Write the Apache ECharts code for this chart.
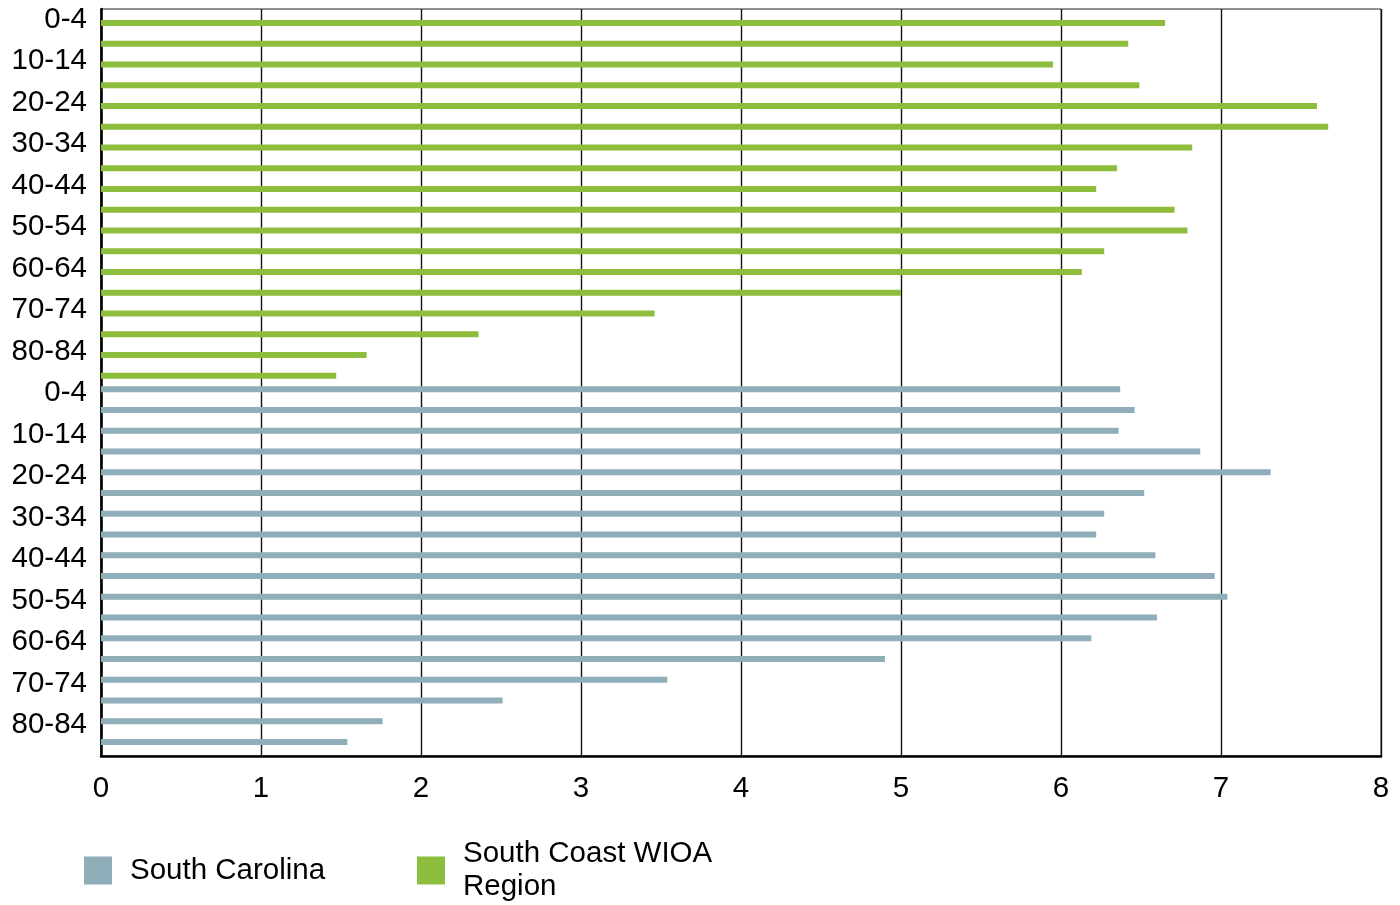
<!DOCTYPE html>
<html>
<head>
<meta charset="utf-8">
<script src="https://cdn.jsdelivr.net/npm/echarts@6/dist/echarts.min.js"></script>
<style>
  html, body { margin: 0; padding: 0; background: #ffffff; }
  #chart { width: 1400px; height: 905px; }
</style>
</head>
<body>
<div id="chart"></div>
<script>
// Age groups (tick labels), repeated for each region block
const ageGroups = ['0-4','5-9','10-14','15-19','20-24','25-29','30-34','35-39','40-44','45-49','50-54','55-59','60-64','65-69','70-74','75-79','80-84','85+'];

// South Coast WIOA Region (top block, green)
const southCoastValues = [6.65, 6.42, 5.95, 6.49, 7.60, 7.67, 6.82, 6.35, 6.22, 6.71, 6.79, 6.27, 6.13, 5.00, 3.46, 2.36, 1.66, 1.47];

// South Carolina (bottom block, gray-blue)
const southCarolinaValues = [6.37, 6.46, 6.36, 6.87, 7.31, 6.52, 6.27, 6.22, 6.59, 6.96, 7.04, 6.60, 6.19, 4.90, 3.54, 2.51, 1.76, 1.54];

const xTicks = { min: 0, max: 8, interval: 1 };

const seriesNames = ['South Carolina', 'South Coast WIOA Region'];
const seriesColors = ['#8FAEBA', '#8DBD3D'];

// Build 36 unique category keys: first block = South Coast, second = South Carolina
const categories = ageGroups.map(a => 'A|' + a).concat(ageGroups.map(a => 'B|' + a));
const nulls = ageGroups.map(() => null);
const scData = nulls.concat(southCarolinaValues);
const scwData = southCoastValues.concat(nulls);

const chart = echarts.init(document.getElementById('chart'), null, { renderer: 'canvas' });
const font = 'Liberation Sans, Arial, Helvetica, sans-serif';
const fs = 29.5;

chart.setOption({
  backgroundColor: '#ffffff',
  animation: false,
  textStyle: { fontFamily: font },
  grid: {
    left: 101, right: 19, top: 9, bottom: 149,
    show: true, borderColor: '#222222', borderWidth: 1, backgroundColor: 'transparent'
  },
  xAxis: {
    type: 'value',
    min: xTicks.min, max: xTicks.max, interval: xTicks.interval,
    axisLine: { show: true, lineStyle: { color: '#000000', width: 2.5 } },
    axisTick: { show: false },
    axisLabel: { color: '#000000', fontSize: fs, fontFamily: font, margin: 18 },
    splitLine: { show: true, lineStyle: { color: '#111111', width: 1.4 } }
  },
  yAxis: {
    type: 'category',
    inverse: true,
    data: categories,
    axisLine: { show: true, onZero: false, lineStyle: { color: '#000000', width: 2.5 } },
    axisTick: { show: false },
    axisLabel: {
      interval: 1, color: '#000000', fontSize: fs, fontFamily: font, margin: 14,
      padding: [4, 0, 0, 0],
      formatter: v => v.split('|')[1]
    },
    splitLine: { show: false }
  },
  legend: [
    {
      data: [seriesNames[0]],
      left: 84, top: 854, padding: 0,
      itemWidth: 28, itemHeight: 28, icon: 'rect',
      textStyle: { color: '#000000', fontSize: fs, fontFamily: font, lineHeight: 28, padding: [5, 0, 0, 13] }
    },
    {
      data: [seriesNames[1]],
      left: 417, top: 835, padding: 0,
      itemWidth: 28, itemHeight: 28, icon: 'rect',
      formatter: name => name.replace(' Region', '\nRegion'),
      textStyle: { color: '#000000', fontSize: fs, fontFamily: font, lineHeight: 33, padding: [5, 0, 0, 13] }
    }
  ],
  series: [
    {
      name: seriesNames[0], type: 'bar', data: scData,
      barWidth: 6, barGap: '20%',
      itemStyle: { color: seriesColors[0] }
    },
    {
      name: seriesNames[1], type: 'bar', data: scwData,
      barWidth: 6, barGap: '20%',
      itemStyle: { color: seriesColors[1] }
    }
  ]
});
</script>
</body>
</html>
